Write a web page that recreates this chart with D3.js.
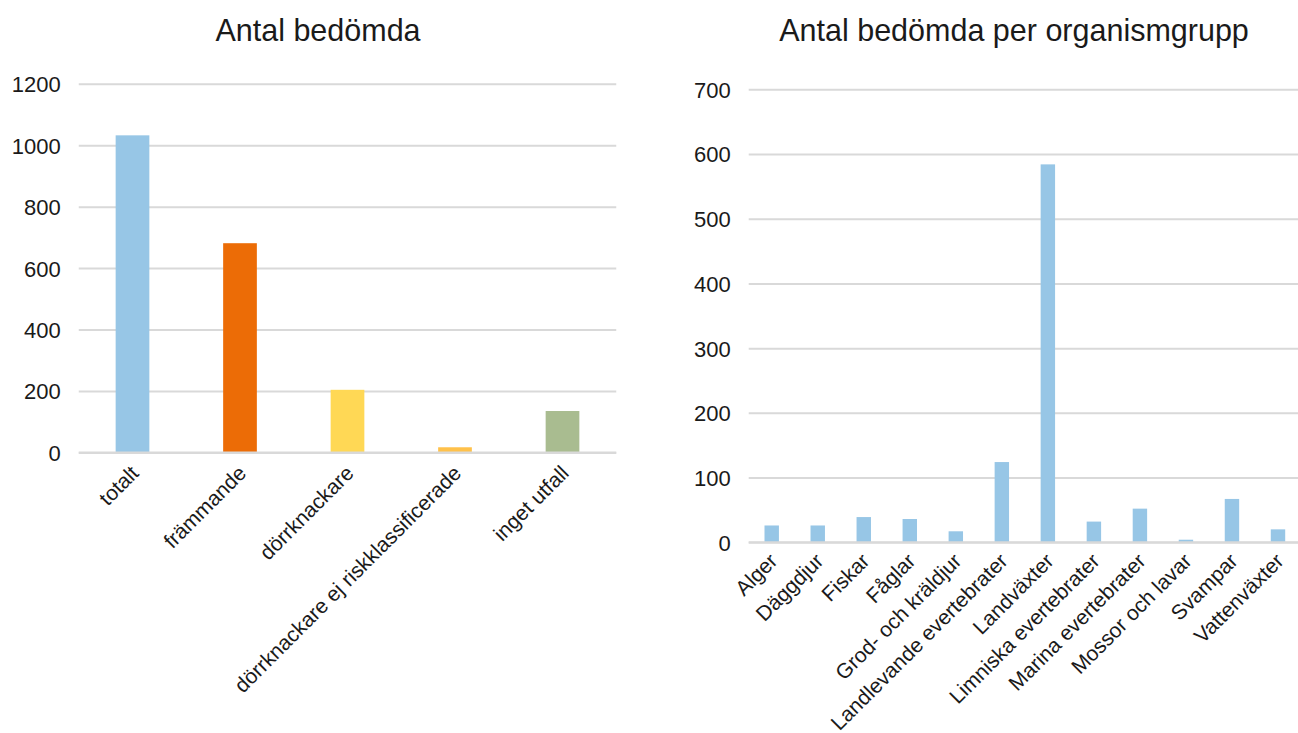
<!DOCTYPE html>
<html lang="sv">
<head>
<meta charset="utf-8">
<title>Antal bedömda</title>
<script src="https://d3js.org/d3.v7.min.js"></script>
<style>
    body { margin: 0; background: #fff; }
    svg text { font-family: "Liberation Sans", Arial, sans-serif; fill: #1a1a1a; }
    .grid line { stroke: #d9d9d9; stroke-width: 2; }
    .grid .domain { display: none; }
    .ytick text { font-size: 22px; }
    .xcat text { font-size: 21px; }
    .title { font-size: 30.5px; text-anchor: middle; }
</style>
</head>
<body>
<div id="chart"></div>
<script>
    "use strict"

    // vänster diagram
    var kategorier = ["totalt", "främmande", "dörrknackare", "dörrknackare ej riskklassificerade", "inget utfall"];
    var antal = [1032, 681, 204, 17, 135];
    var farger = ["#97c6e6", "#ec6c06", "#ffd855", "#ffc14a", "#a9bc90"];
    var vTicks = [0, 200, 400, 600, 800, 1000, 1200];

    // höger diagram
    var grupper = ["Alger", "Däggdjur", "Fiskar", "Fåglar", "Grod- och kräldjur", "Landlevande evertebrater",
        "Landväxter", "Limniska evertebrater", "Marina evertebrater", "Mossor och lavar", "Svampar", "Vattenväxter"];
    var antalGrupp = [26, 26, 39, 36, 17, 124, 584, 32, 52, 4, 67, 20];
    var hTicks = [0, 100, 200, 300, 400, 500, 600, 700];

    var svg = d3.select("#chart").append("svg")
        .attr("width", 1298)
        .attr("height", 733);

    function barChart(opt) {
        var x = d3.scaleBand()
            .domain(opt.cats)
            .range([opt.x0, opt.x1])
            .paddingInner(0.6865)
            .paddingOuter(0.6865 / 2);

        var y = d3.scaleLinear()
            .domain([0, opt.max])
            .range([opt.y0, opt.y1]);

        var g = svg.append("g");

        g.append("text")
            .attr("class", "title")
            .attr("x", opt.titleX)
            .attr("y", 41)
            .text(opt.title);

        // stödlinjer
        var grid = g.append("g")
            .attr("class", "grid ytick")
            .attr("transform", "translate(" + opt.x0 + ",0)")
            .call(d3.axisLeft(y).tickValues(opt.ticks).tickSize(-(opt.x1 - opt.x0)).tickPadding(18).tickFormat(d3.format("d")));
        grid.selectAll("text").attr("dy", "0.36em");

        g.selectAll("rect.bar")
            .data(opt.values)
            .enter()
            .append("rect")
            .attr("class", "bar")
            .attr("x", (d, i) => x(opt.cats[i]))
            .attr("width", x.bandwidth())
            .attr("y", d => y(d))
            .attr("height", d => y(0) - y(d))
            .attr("fill", (d, i) => opt.colors[i]);

        // nollinjen ovanpå staplarna
        g.append("line")
            .attr("x1", opt.x0)
            .attr("x2", opt.x1)
            .attr("y1", y(0))
            .attr("y2", y(0))
            .attr("stroke", "#d9d9d9")
            .attr("stroke-width", 2);

        g.append("g")
            .attr("class", "xcat")
            .selectAll("text")
            .data(opt.cats)
            .enter()
            .append("text")
            .attr("text-anchor", "end")
            .attr("transform", d => "translate(" + (x(d) + x.bandwidth() / 2 + opt.lx) + "," + (y(0) + opt.ly) + ") rotate(-45)")
            .text(d => d);
    }

    barChart({
        cats: kategorier, values: antal, colors: farger, ticks: vTicks, max: 1200,
        x0: 78.75, x1: 616.25, y0: 452.5, y1: 83.7,
        title: "Antal bedömda", titleX: 318, lx: 7.5, ly: 22
    });

    barChart({
        cats: grupper, values: antalGrupp, colors: grupper.map(() => "#97c6e6"), ticks: hTicks, max: 700,
        x0: 748.7, x1: 1301, y0: 542.3, y1: 89.3,
        title: "Antal bedömda per organismgrupp", titleX: 1014, lx: 7, ly: 20
    });
</script>
</body>
</html>
